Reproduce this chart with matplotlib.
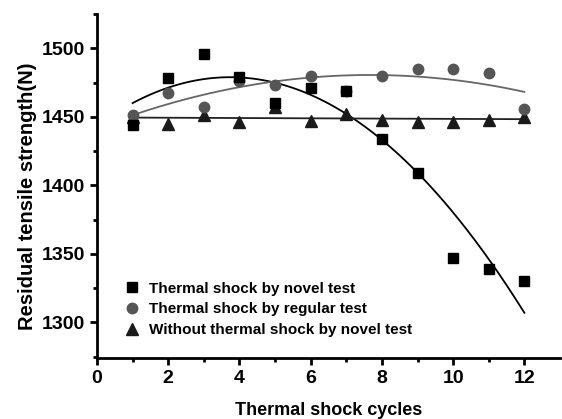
import matplotlib.pyplot as plt
import numpy as np

plt.rcParams['font.family'] = ['Liberation Sans', 'DejaVu Sans']
plt.rcParams['font.weight'] = 'bold'

cycles = np.arange(1, 13)
novel = [1444, 1478, 1496, 1479, 1460, 1471, 1469, 1434, 1409, 1347, 1339, 1330]
regular = [1451, 1467, 1457, 1476, 1473, 1480, 1469, 1480, 1485, 1485, 1482, 1456]
without = [1450, 1445, 1451, 1446, 1457, 1447, 1452, 1448, 1446, 1446, 1448, 1450]

labels = ['Thermal shock by novel test',
          'Thermal shock by regular test',
          'Without thermal shock by novel test']

fig = plt.figure(figsize=(5.62, 4.19), dpi=100)
ax = fig.add_axes([0.1726, 0.1456, 0.8238, 0.821])

xs = np.linspace(1, 12, 200)
fit_n = np.polyfit(cycles, novel, 2)
fit_r = np.polyfit(cycles, regular, 2)
fit_w = np.polyfit(cycles, without, 1)
ax.plot(xs, np.polyval(fit_n, xs), color='black', lw=1.3)
ax.plot(xs, np.polyval(fit_r, xs), color='#666666', lw=1.3)
ax.plot(xs, np.polyval(fit_w, xs), color='#222222', lw=1.3)

ax.plot(cycles, without, '^', color='#1a1a1a', ms=8, label=labels[2], zorder=3)
ax.plot(cycles, regular, 'o', color='#555555', ms=7.5, label=labels[1], zorder=4)
ax.plot(cycles, novel, 's', color='black', ms=6.5, label=labels[0], zorder=5)

h, l = ax.get_legend_handles_labels()
ax.legend(h[::-1], l[::-1], loc='lower left', bbox_to_anchor=(0.03, 0.02),
          frameon=False, fontsize=11, handlelength=1.0, handletextpad=0.6,
          labelspacing=0.45)

ax.set_xlim(0, 13)
ax.set_ylim(1274, 1525)
ax.set_xticks(np.arange(0, 13, 2))
ax.set_xticks(np.arange(1, 13, 2), minor=True)
ax.set_yticks(np.arange(1300, 1501, 50))
ax.set_yticks(np.arange(1275, 1526, 25), minor=True)
ax.spines['top'].set_visible(False)
ax.spines['right'].set_visible(False)
for s in ['left', 'bottom']:
    ax.spines[s].set_linewidth(2)
ax.tick_params(which='major', length=5, width=2, labelsize=14)
ax.tick_params(which='minor', length=3, width=2)
for t in ax.get_xticklabels() + ax.get_yticklabels():
    t.set_fontweight('bold')

ax.set_xlabel('Thermal shock cycles', fontsize=13, fontweight='bold', labelpad=11)
ax.set_ylabel('Residual tensile strength(N)', fontsize=14.5, fontweight='bold')
ax.yaxis.set_label_coords(-0.129, 0.47)

plt.savefig('out.png', dpi=100)
